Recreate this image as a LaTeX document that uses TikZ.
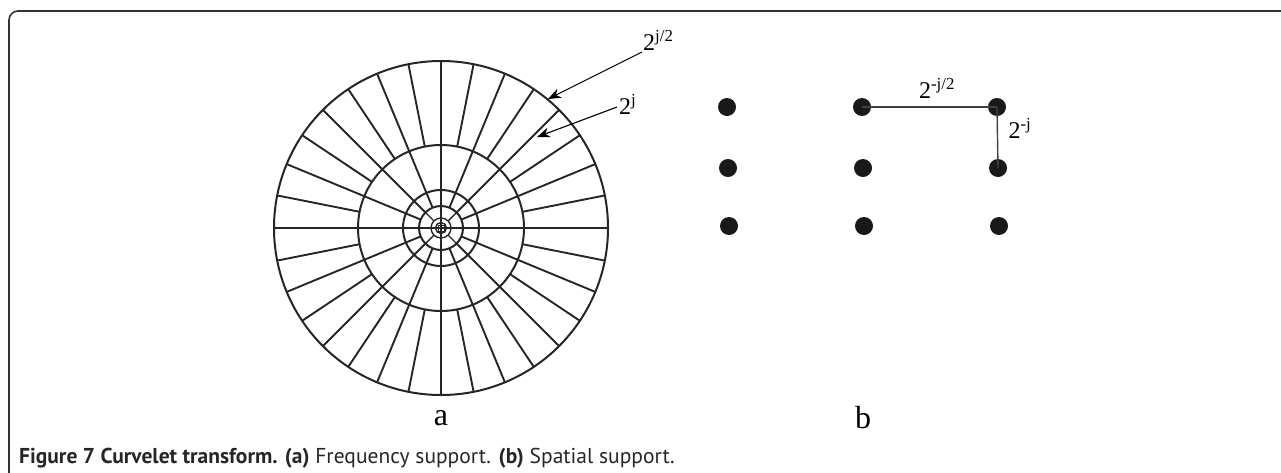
\documentclass[tikz,border=0pt]{standalone}
\usepackage{fontspec}
\setmainfont{Liberation Serif}
\newfontfamily\capfont{PT Sans}
\usetikzlibrary{arrows.meta,calc}
\tikzset{
  ring/.style={line width=2pt, draw=black!85},
  spoke/.style={line width=1.9pt, draw=black!85},
  frameline/.style={line width=1.6pt, draw=black!80, rounded corners=9pt},
  pointer/.style={line width=1.1pt, -{Stealth[length=13pt,width=10pt]}},
  dot/.style={circle, fill=black!90, inner sep=0pt, minimum size=18pt},
  link/.style={line width=1.4pt, draw=black!75},
  lab/.style={inner sep=0pt, font=\fontsize{24}{26}\selectfont},
  panel/.style={inner sep=0pt, font=\fontsize{32}{34}\selectfont}
}
\begin{document}
\begin{tikzpicture}[x=1pt,y=-1pt]
\useasboundingbox (0,0) rectangle (1281,472);
% frame
\draw[frameline] (9,473) -- (9,11) -- (1282,11);
% frequency tiling
\coordinate (c) at (441,228);
\foreach \r in {167,83,38,22}
  \draw[ring] (c) circle[radius=\r];
\foreach \r in {10,5.5}
  \draw[ring, line width=1.4pt] (c) circle[radius=\r];
\draw[line width=1pt, draw=black!85] ($(c)+(-3,-3)$) rectangle ($(c)+(3,3)$);
\foreach \a in {0,11.25,...,349}
  \draw[spoke] ($(c)+(\a:83)$) -- ($(c)+(\a:167)$);
\foreach \a in {0,22.5,...,338}
  \draw[spoke] ($(c)+(\a:22)$) -- ($(c)+(\a:83)$);
\foreach \a in {0,45,...,315}
  \draw[spoke, line width=1.4pt] ($(c)+(\a:10)$) -- ($(c)+(\a:22)$);
\draw[spoke] ($(c)+(-168,0)$) -- ($(c)+(167,0)$);
\draw[spoke] ($(c)+(0,-167)$) -- ($(c)+(0,167)$);
% pointer labels
\node[lab, anchor=west] (l1) at (643,40) {2\textsuperscript{j/2}};
\node[lab, anchor=west] (l2) at (619,104) {2\textsuperscript{j}};
\coordinate (s1) at (642,52);
\coordinate (t1) at (548,99);
\coordinate (s2) at (617,107);
\coordinate (t2) at (537,137);
\draw[pointer] (s1) -- (t1);
\draw[pointer] (s2) -- (t2);
% spatial grid
\node[dot] (d11) at (727,107) {};
\node[dot] (d12) at (862,107) {};
\node[dot] (d13) at (997,107) {};
\node[dot] (d21) at (728,168) {};
\node[dot] (d22) at (863,168) {};
\node[dot] (d23) at (998,168) {};
\node[dot] (d31) at (729,226) {};
\node[dot] (d32) at (864,226) {};
\node[dot] (d33) at (999,226) {};
\draw[link] (d12.center) -- (d13.center);
\draw[link] (d13.center) -- (d23.center);
\node[lab] (h1) at (937,88) {2\textsuperscript{-j/2}};
\node[lab] (h2) at (1020,128) {2\textsuperscript{-j}};
% panel letters
\node[panel] (pa) at (441,418) {a};
\node[panel] (pb) at (863,418) {b};
% caption
\node[anchor=base west, inner sep=0pt, text=black!85, font=\capfont\fontsize{21.5}{24}\selectfont] (cap) at (19,463)
  {\textbf{Figure 7 Curvelet transform. (a)} Frequency support. \textbf{(b)} Spatial support.};
\end{tikzpicture}
\end{document}
